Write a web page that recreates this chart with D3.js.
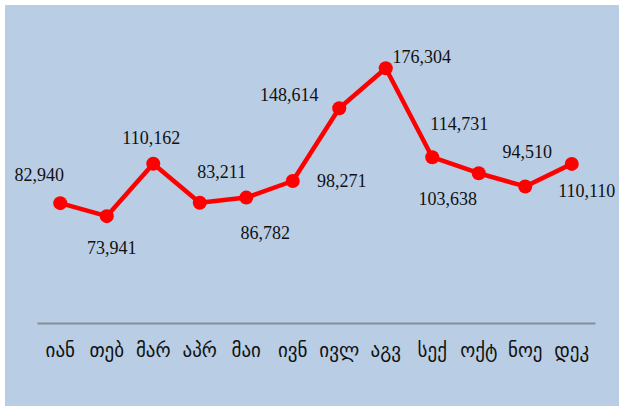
<!DOCTYPE html>
<html>
<head>
<meta charset="utf-8">
<script src="https://cdn.jsdelivr.net/npm/d3@7"></script>
<style>
  body { margin: 0; background: #fff; }
  svg { display: block; }
</style>
</head>
<body>
<svg id="chart"></svg>
<script>
const months = ['იან', 'თებ', 'მარ', 'აპრ', 'მაი', 'ივნ', 'ივლ', 'აგვ', 'სექ', 'ოქტ', 'ნოე', 'დეკ'];
const values = [82940, 73941, 110162, 83211, 86782, 98271, 148614, 176304, 114731, 103638, 94510, 110110];
const yMax = 200000;

// where each value label sits relative to its point (dx centre, dy baseline)
const labelDx = [-21, 5, -2, 22, 19, 49, -50, 36, 27, -31, 2, 15];
const labelDy = [-22, 38, -20, -25, 41, 6, -7, -5, -27, 32, -28, 33];

const size = { width: 619, height: 407 };
const margin = { left: 37, right: 24, top: 34, bottom: 84 };

const data = months.map((m, i) => ({ name: m, count: values[i], i }));

const svg = d3.select('#chart')
  .attr('width', size.width)
  .attr('height', size.height);

svg.append('rect')
  .attr('x', 5)
  .attr('y', 5)
  .attr('width', size.width - 5)
  .attr('height', size.height - 6)
  .attr('fill', '#b9cde5');

const xAxis = d3.scaleBand()
  .range([margin.left, size.width - margin.right])
  .domain(months);

const yAxis = d3.scaleLinear()
  .domain([0, yMax])
  .range([size.height - margin.bottom, margin.top]);

const cx = (d) => xAxis(d.name) + xAxis.bandwidth() / 2;

// category axis
const gx = svg.append('g')
  .attr('transform', `translate(0, ${size.height - margin.bottom})`)
  .call(d3.axisBottom(xAxis).tickSize(0).tickPadding(21));
gx.select('.domain')
  .attr('stroke', '#878d96')
  .attr('stroke-width', 2);
gx.selectAll('text')
  .attr('fill', '#111')
  .style('font-family', '"DejaVu Sans", sans-serif')
  .style('font-size', '19px');

const line = d3.line()
  .x(cx)
  .y((d) => yAxis(d.count));

svg.append('path')
  .datum(data)
  .attr('d', line)
  .attr('fill', 'none')
  .attr('stroke', '#ff0000')
  .attr('stroke-width', 4.5)
  .attr('stroke-linejoin', 'round');

svg.selectAll('.dot')
  .data(data)
  .enter()
  .append('circle')
  .attr('class', 'dot')
  .attr('cx', cx)
  .attr('cy', (d) => yAxis(d.count))
  .attr('r', 7)
  .attr('fill', '#ff0000');

const fmt = d3.format(',');
svg.selectAll('.lbl')
  .data(data)
  .enter()
  .append('text')
  .attr('class', 'lbl')
  .attr('x', (d) => cx(d) + labelDx[d.i])
  .attr('y', (d) => yAxis(d.count) + labelDy[d.i])
  .attr('text-anchor', 'middle')
  .attr('fill', '#111')
  .style('font-family', '"Liberation Serif", "Times New Roman", serif')
  .style('font-size', '18px')
  .text((d) => fmt(d.count));
</script>
</body>
</html>
